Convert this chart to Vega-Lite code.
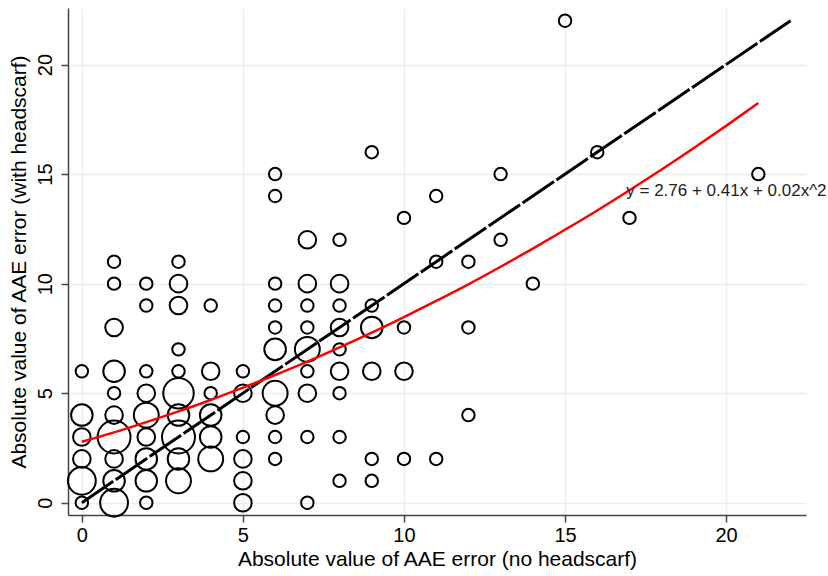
{
  "$schema": "https://vega.github.io/schema/vega-lite/v6.json",
  "width": 738,
  "height": 507,
  "autosize": {"type": "none"},
  "padding": {"left": 68, "top": 8, "right": 22, "bottom": 61},
  "background": "white",
  "datasets": {
    "points": [
      {"x": 0, "y": 0, "n": 1}, {"x": 0, "y": 1, "n": 5}, {"x": 0, "y": 2, "n": 2}, {"x": 0, "y": 3, "n": 2}, {"x": 0, "y": 4, "n": 3}, {"x": 0, "y": 6, "n": 1},
      {"x": 1, "y": 0, "n": 5}, {"x": 1, "y": 1, "n": 3}, {"x": 1, "y": 2, "n": 2}, {"x": 1, "y": 3, "n": 7}, {"x": 1, "y": 4, "n": 2}, {"x": 1, "y": 5, "n": 1}, {"x": 1, "y": 6, "n": 3}, {"x": 1, "y": 8, "n": 2}, {"x": 1, "y": 10, "n": 1}, {"x": 1, "y": 11, "n": 1},
      {"x": 2, "y": 0, "n": 1}, {"x": 2, "y": 1, "n": 3}, {"x": 2, "y": 2, "n": 3}, {"x": 2, "y": 3, "n": 2}, {"x": 2, "y": 4, "n": 4}, {"x": 2, "y": 5, "n": 2}, {"x": 2, "y": 6, "n": 1}, {"x": 2, "y": 9, "n": 1}, {"x": 2, "y": 10, "n": 1},
      {"x": 3, "y": 1, "n": 4}, {"x": 3, "y": 2, "n": 3}, {"x": 3, "y": 3, "n": 7}, {"x": 3, "y": 4, "n": 3}, {"x": 3, "y": 5, "n": 6}, {"x": 3, "y": 6, "n": 1}, {"x": 3, "y": 7, "n": 1}, {"x": 3, "y": 9, "n": 2}, {"x": 3, "y": 10, "n": 2}, {"x": 3, "y": 11, "n": 1},
      {"x": 4, "y": 2, "n": 4}, {"x": 4, "y": 3, "n": 3}, {"x": 4, "y": 4, "n": 3}, {"x": 4, "y": 5, "n": 1}, {"x": 4, "y": 6, "n": 2}, {"x": 4, "y": 9, "n": 1},
      {"x": 5, "y": 0, "n": 2}, {"x": 5, "y": 1, "n": 2}, {"x": 5, "y": 2, "n": 2}, {"x": 5, "y": 3, "n": 1}, {"x": 5, "y": 5, "n": 2}, {"x": 5, "y": 6, "n": 1},
      {"x": 6, "y": 2, "n": 1}, {"x": 6, "y": 3, "n": 1}, {"x": 6, "y": 4, "n": 2}, {"x": 6, "y": 5, "n": 4}, {"x": 6, "y": 7, "n": 3}, {"x": 6, "y": 8, "n": 1}, {"x": 6, "y": 9, "n": 1}, {"x": 6, "y": 10, "n": 1}, {"x": 6, "y": 14, "n": 1}, {"x": 6, "y": 15, "n": 1},
      {"x": 7, "y": 0, "n": 1}, {"x": 7, "y": 3, "n": 1}, {"x": 7, "y": 5, "n": 2}, {"x": 7, "y": 6, "n": 1}, {"x": 7, "y": 7, "n": 4}, {"x": 7, "y": 8, "n": 1}, {"x": 7, "y": 9, "n": 1}, {"x": 7, "y": 10, "n": 2}, {"x": 7, "y": 12, "n": 2},
      {"x": 8, "y": 1, "n": 1}, {"x": 8, "y": 3, "n": 1}, {"x": 8, "y": 5, "n": 1}, {"x": 8, "y": 6, "n": 2}, {"x": 8, "y": 7, "n": 1}, {"x": 8, "y": 8, "n": 2}, {"x": 8, "y": 9, "n": 1}, {"x": 8, "y": 10, "n": 2}, {"x": 8, "y": 12, "n": 1},
      {"x": 9, "y": 1, "n": 1}, {"x": 9, "y": 2, "n": 1}, {"x": 9, "y": 6, "n": 2}, {"x": 9, "y": 8, "n": 3}, {"x": 9, "y": 9, "n": 1}, {"x": 9, "y": 16, "n": 1},
      {"x": 10, "y": 2, "n": 1}, {"x": 10, "y": 6, "n": 2}, {"x": 10, "y": 8, "n": 1}, {"x": 10, "y": 13, "n": 1},
      {"x": 11, "y": 2, "n": 1}, {"x": 11, "y": 11, "n": 1}, {"x": 11, "y": 14, "n": 1},
      {"x": 12, "y": 4, "n": 1}, {"x": 12, "y": 8, "n": 1}, {"x": 12, "y": 11, "n": 1},
      {"x": 13, "y": 12, "n": 1}, {"x": 13, "y": 15, "n": 1},
      {"x": 14, "y": 10, "n": 1},
      {"x": 15, "y": 22, "n": 1},
      {"x": 16, "y": 16, "n": 1},
      {"x": 17, "y": 13, "n": 1},
      {"x": 21, "y": 15, "n": 1}
    ],
    "diag": [{"x": 0, "y": 0}, {"x": 22, "y": 22}],
    "fit": [
      {"x": 0, "y": 2.78}, {"x": 1, "y": 3.21}, {"x": 2, "y": 3.68}, {"x": 3, "y": 4.17}, {"x": 4, "y": 4.69},
      {"x": 5, "y": 5.25}, {"x": 6, "y": 5.83}, {"x": 7, "y": 6.44}, {"x": 8, "y": 7.09}, {"x": 9, "y": 7.76},
      {"x": 10, "y": 8.47}, {"x": 11, "y": 9.21}, {"x": 12, "y": 9.97}, {"x": 13, "y": 10.77}, {"x": 14, "y": 11.6},
      {"x": 15, "y": 12.46}, {"x": 16, "y": 13.34}, {"x": 17, "y": 14.26}, {"x": 18, "y": 15.21}, {"x": 19, "y": 16.19},
      {"x": 20, "y": 17.2}, {"x": 21, "y": 18.24}
    ],
    "label": [{"x": 16.9, "y": 14.0, "t": "y = 2.76 + 0.41x + 0.02x^2"}]
  },
  "layer": [
    {
      "data": {"name": "points"},
      "mark": {"type": "point", "shape": "circle", "filled": false, "stroke": "#000", "strokeWidth": 2, "opacity": 1},
      "encoding": {
        "x": {"field": "x", "type": "quantitative", "scale": {"domain": [-0.43, 22.48], "nice": false, "zero": false},
          "axis": {"title": "Absolute value of AAE error (no headscarf)", "values": [0, 5, 10, 15, 20]}},
        "y": {"field": "y", "type": "quantitative", "scale": {"domain": [-0.56, 22.58], "nice": false, "zero": false},
          "axis": {"title": "Absolute value of AAE error (with headscarf)", "values": [0, 5, 10, 15, 20], "labelAngle": -90, "labelAlign": "center", "labelBaseline": "bottom", "labelPadding": 6, "titlePadding": 6}},
        "size": {"field": "n", "type": "quantitative", "scale": {"type": "linear", "domain": [0, 1], "range": [0, 155]}, "legend": null}
      }
    },
    {
      "data": {"name": "diag"},
      "mark": {"type": "line", "color": "#000", "strokeWidth": 3, "strokeDash": [38, 3]},
      "encoding": {
        "x": {"field": "x", "type": "quantitative"},
        "y": {"field": "y", "type": "quantitative"}
      }
    },
    {
      "data": {"name": "fit"},
      "mark": {"type": "line", "color": "#ff0000", "strokeWidth": 2.5, "interpolate": "monotone"},
      "encoding": {
        "x": {"field": "x", "type": "quantitative"},
        "y": {"field": "y", "type": "quantitative"}
      }
    },
    {
      "data": {"name": "label"},
      "mark": {"type": "text", "align": "left", "baseline": "alphabetic", "fontSize": 17, "color": "#222"},
      "encoding": {
        "x": {"field": "x", "type": "quantitative"},
        "y": {"field": "y", "type": "quantitative"},
        "text": {"field": "t"}
      }
    }
  ],
  "config": {
    "view": {"stroke": null},
    "font": "Liberation Sans",
    "axis": {
      "grid": true,
      "gridColor": "#e8eff1",
      "gridWidth": 1.5,
      "domainColor": "#444",
      "domainWidth": 1.5,
      "tickColor": "#444",
      "tickSize": 7,
      "tickWidth": 1.5,
      "labelFontSize": 20,
      "labelColor": "#000",
      "labelFont": "Liberation Sans",
      "titleFont": "Liberation Sans",
      "titleFontSize": 21,
      "titleFontWeight": "normal",
      "titleColor": "#000",
      "labelPadding": 3,
      "titlePadding": 3
    }
  }
}
